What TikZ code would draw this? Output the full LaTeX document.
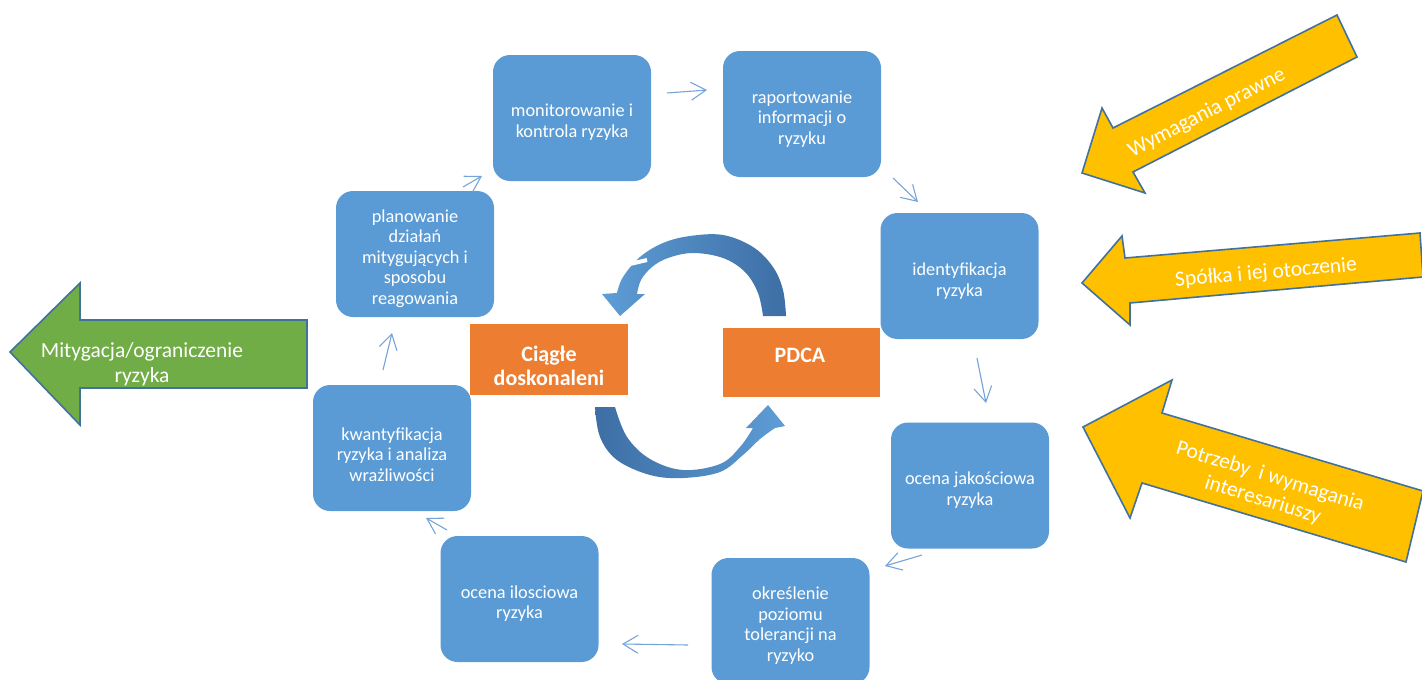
\documentclass[tikz,border=0pt]{standalone}
\usepackage{fontspec}
\setmainfont{Carlito}
\usetikzlibrary{arrows.meta}
\definecolor{boxblue}{HTML}{5B9BD5}
\definecolor{arrowblue}{HTML}{41719C}
\definecolor{linkblue}{HTML}{76A3D8}
\definecolor{orng}{HTML}{ED7D31}
\definecolor{grn}{HTML}{70AD47}
\definecolor{ylw}{HTML}{FFC000}
\definecolor{darkarc}{HTML}{3D6EA4}
\definecolor{lightarc}{HTML}{5E9DD6}
\begin{document}
\begin{tikzpicture}[x=1pt,y=-1pt,
  stepbox/.style={fill=boxblue, rounded corners=17pt, minimum width=158pt, minimum height=126pt, inner sep=0pt},
  boxtxt/.style={text=white, align=center, font=\fontsize{18.3}{20.5}\selectfont, inner sep=0pt},
  pdcabox/.style={fill=orng, inner sep=0pt},
  pdcatxt/.style={text=white, align=center, font=\bfseries\fontsize{22}{24}\selectfont, inner sep=0pt},
  bigtxt/.style={text=white, align=center, font=\fontsize{21.5}{24.5}\selectfont, inner sep=0pt},
  link/.style={draw=linkblue, line width=1.1pt, -{Straight Barb[length=15pt,width=18pt,line width=1.1pt]}},
  bigarrow/.style={draw=arrowblue, line width=1.6pt, line join=miter}
]
\useasboundingbox (0,0) rectangle (1422,680);
\clip (0,0) rectangle (1422,680);

% big side arrows
\path[bigarrow, fill=grn] (10,352) -- (80,283) -- (80,320) -- (307,320) -- (307,388) -- (80,388) -- (80,425) -- cycle;
\node[bigtxt] (gtxt) at (142,364.5) {Mitygacja/ograniczenie\\ryzyka};

\path[bigarrow, fill=ylw] (1082,173) -- (1102,108) -- (1113,128) -- (1337,15) -- (1357,57) -- (1133,172) -- (1145,193) -- cycle;
\node[bigtxt, rotate=27] (y1txt) at (1207,113) {Wymagania prawne};

\path[bigarrow, fill=ylw] (1082,283) -- (1122,236) -- (1125,258) -- (1420,233) -- (1423,277) -- (1130,303) -- (1130,325) -- cycle;
\node[bigtxt, rotate=5] (y2txt) at (1266,273) {Spółka i iej otoczenie};

\path[bigarrow, fill=ylw] (1083,427) -- (1172,380) -- (1162,413) -- (1423,491) -- (1406,562) -- (1142,483) -- (1130,518) -- cycle;
\node[bigtxt, rotate=-17] (y3txt) at (1266.5,488.5) {Potrzeby~ i wymagania\\interesariuszy};

% blue step boxes
\node[stepbox] (b1) at (572,118) {};
\node[stepbox] (b2) at (802,114) {};
\node[stepbox] (b3) at (959.5,276) {};
\node[stepbox] (b4) at (970,485.5) {};
\node[stepbox] (b5) at (790.5,621) {};
\node[stepbox] (b6) at (519.5,599) {};
\node[stepbox] (b7) at (392,448) {};
\node[stepbox] (b8) at (415,254) {};

\node[boxtxt] (t1) at (572,122) {monitorowanie i\\kontrola ryzyka};
\node[boxtxt] (t2) at (802,119) {raportowanie\\informacji o\\ryzyku};
\node[boxtxt] (t3) at (959.5,281) {identyfikacja\\ryzyka};
\node[boxtxt] (t4) at (970,490) {ocena jakościowa\\ryzyka};
\node[boxtxt] (t5) at (790.5,625.5) {określenie\\poziomu\\tolerancji na\\ryzyko};
\node[boxtxt] (t6) at (519.5,603.5) {ocena ilosciowa\\ryzyka};
\node[boxtxt] (t7) at (392,454.5) {kwantyfikacja\\ryzyka i analiza\\wrażliwości};
\node[boxtxt] (t8) at (415,258.5) {planowanie\\działań\\mitygujących i\\sposobu\\reagowania};

% links between steps
\coordinate (c12a) at (667,93);  \coordinate (c12b) at (707,90);
\coordinate (c23a) at (893,178); \coordinate (c23b) at (918,202);
\coordinate (c34a) at (977,358); \coordinate (c34b) at (986,403);
\coordinate (c45a) at (922,555); \coordinate (c45b) at (885,566);
\coordinate (c56a) at (688,645); \coordinate (c56b) at (622,644);
\coordinate (c67a) at (447,530); \coordinate (c67b) at (426,518);
\coordinate (c78a) at (383,370); \coordinate (c78b) at (392,333);
\coordinate (c81a) at (463,187); \coordinate (c81b) at (482,176);
\draw[link] (c12a) -- (c12b);
\draw[link] (c23a) -- (c23b);
\draw[link] (c34a) -- (c34b);
\draw[link] (c45a) -- (c45b);
\draw[link] (c56a) -- (c56b);
\draw[link] (c67a) -- (c67b);
\draw[link] (c78a) -- (c78b);
\draw[link] (c81a) -- (c81b);

% orange boxes
\node[pdcabox, minimum width=158pt, minimum height=71pt] (o1) at (549,359.5) {};
\node[pdcatxt] (o1t) at (549,366) {Ciągłe\\doskonaleni};
\node[pdcabox, minimum width=157pt, minimum height=69pt] (o2) at (801.5,362.5) {};
\node[pdcatxt] (o2t) at (800,355) {PDCA};

% circular arrows
\shade[left color=lightarc, right color=darkarc]
  plot[smooth, tension=0.6] coordinates {(786,316) (783,290) (773,267) (753,247) (723,235) (690,236) (663,243) (640,257) (623,277) (617,293)}
  -- (602,294) -- (620,316) -- (645,294)
  -- plot[smooth, tension=0.6] coordinates {(637,294) (641,280) (652,267) (668,258) (693,253) (723,258) (745,272) (758,293) (763,316)}
  -- cycle;
\draw[white, line width=4pt] (630,264) -- (647,260);

\shade[left color=darkarc, right color=lightarc]
  plot[smooth, tension=0.6] coordinates {(595,407) (600,437) (617,460) (650,475) (683,478) (720,472) (743,455) (760,439) (775,428)}
  -- (785,426) -- (768,405) -- (746,428)
  -- plot[smooth, tension=0.6] coordinates {(753,428) (740,447) (720,464) (683,470) (650,459) (627,437) (615,407)}
  -- cycle;
\end{tikzpicture}
\end{document}
